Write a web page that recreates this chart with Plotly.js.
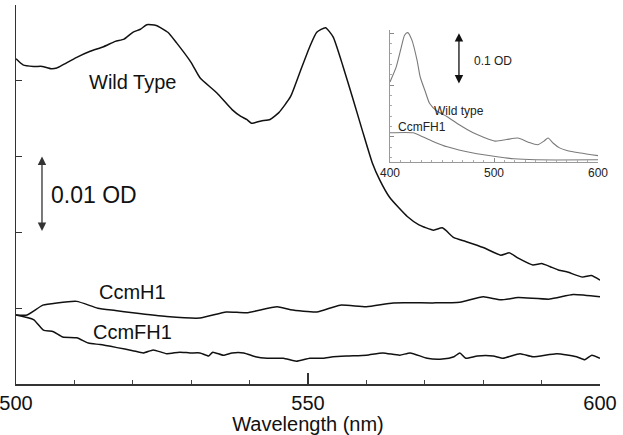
<!DOCTYPE html>
<html>
<head>
<meta charset="utf-8">
<script src="https://cdn.plot.ly/plotly-3.0.1.min.js"></script>
<style>html,body{margin:0;padding:0;background:#fff}#chart{width:623px;height:435px}</style>
</head>
<body>
<div id="chart"></div>
<script>
// Main panel: wavelength (nm) vs absorbance (mOD)
const wtX = [500,501.2,503,504.5,506,507,508,510.4,512.7,515,517,518.5,520,521.3,522.4,524,526,527.5,530,531.5,534.4,537,538.5,539.5,540.3,541,542,543.5,545,547,548.6,550.3,551.5,553,554.3,556,557.7,559.4,561,562.3,564,567,569,571.5,573,575,577,580,583,584.5,586,588.5,590,591.4,593,594.3,597,598.5,600];
const wtY = [42.9,42.1,41.9,41.9,41.6,41.7,42.1,43.1,43.9,44.5,45.2,45.5,46.4,46.8,47.4,47.3,46.4,45.0,42.4,40.4,38.4,36.2,35.3,34.9,34.4,34.5,34.7,34.9,35.8,37.9,41.1,44.5,46.4,47.0,45.8,41.9,37.6,33.2,29.2,26.9,24.6,22.1,21.0,20.3,20.6,19.3,18.8,18.0,17.0,17.3,16.6,15.7,15.9,15.5,15.0,14.8,14.1,14.3,13.7];

const h1X = [500,501.9,504.6,507,510.4,514,517,520,525.8,531.5,536,539.5,544.7,547,551.5,555.5,560,564.6,571.4,576,580,583,586,591.4,595.4,600];
const h1Y = [9.1,9.1,10.4,10.7,10.9,10.0,9.7,9.4,8.9,8.7,9.5,9.4,10.2,9.8,9.5,10.4,10.2,10.7,10.7,10.8,11.5,11.1,11.4,11.2,11.8,11.5];

const fh1X = [500,503,504.7,506.4,508,510.4,512.4,514.4,517.3,520,521.8,523.5,525.8,528,529.8,531.5,533,533.7,535.5,537,539,541,543,545.8,548,550.3,552.6,554.3,557,560,562.8,565.7,567.5,570.4,573,575,576,577,579,581.7,583.4,586.3,588.5,592.6,596,597.4,598.6,600];
const fh1Y = [9.1,8.5,7.1,6.9,6.2,6.1,5.4,5.2,4.8,4.4,4.1,4.5,4.0,4.2,4.1,4.1,3.7,4.2,3.8,4.1,4.1,3.6,3.4,3.4,3.0,3.4,3.4,3.6,3.7,3.8,4.1,3.8,4.1,3.4,3.3,3.6,4.1,3.4,3.7,3.7,3.4,4.0,3.6,4.0,3.6,3.2,3.8,3.4];

// Inset: wavelength (nm) vs absorbance (OD)
const inWtX = [400,406,411,414,417,421,426,429,434,438,445,455,467,480,501,512,523,533,542,548,552,557,563,570,583,600];
const inWtY = [0.206,0.235,0.274,0.296,0.301,0.287,0.248,0.216,0.187,0.165,0.150,0.139,0.123,0.108,0.092,0.095,0.098,0.090,0.085,0.092,0.098,0.088,0.079,0.074,0.069,0.064];
const inFhX = [400,422,432,443,455,480,503,519,540,600];
const inFhY = [0.108,0.108,0.100,0.090,0.081,0.069,0.062,0.058,0.056,0.056];

const mainTicks = [500,550,600];
const mainYTicks = [10,20,30,40];
const insetTicks = [400,500,600];

const F = 'Liberation Sans, Arial, sans-serif';
const lineMain = {color:'#111', width:1.5, shape:'spline', smoothing:0.5};
const lineInset = {color:'#7a7a7a', width:1.1, shape:'spline', smoothing:0.6};

const traces = [
  {x:wtX, y:wtY, type:'scatter', mode:'lines', line:lineMain, xaxis:'x', yaxis:'y'},
  {x:h1X, y:h1Y, type:'scatter', mode:'lines', line:lineMain, xaxis:'x', yaxis:'y'},
  {x:fh1X, y:fh1Y, type:'scatter', mode:'lines', line:lineMain, xaxis:'x', yaxis:'y'},
  {x:inWtX, y:inWtY, type:'scatter', mode:'lines', line:lineInset, xaxis:'x2', yaxis:'y2'},
  {x:inFhX, y:inFhY, type:'scatter', mode:'lines', line:lineInset, xaxis:'x2', yaxis:'y2'}
];

const layout = {
  width:623, height:435,
  margin:{l:16, r:23, t:5, b:51},
  paper_bgcolor:'#fff', plot_bgcolor:'rgba(0,0,0,0)',
  showlegend:false,
  font:{family:F, color:'#111'},
  xaxis:{
    domain:[0,1], range:[500,600], showgrid:false, zeroline:false,
    showline:true, linecolor:'#333', linewidth:1.5,
    tickvals:mainTicks, ticktext:mainTicks.map(String), ticks:'inside', ticklen:11, tickwidth:1.2, tickcolor:'#333',
    ticklabeloverflow:'allow',
    minor:{dtick:10, ticks:'inside', ticklen:4, tickwidth:1, tickcolor:'#444'},
    tickfont:{size:20, family:F, color:'#111'},
    title:{text:'Wavelength (nm)', font:{size:20, family:F, color:'#111'}, standoff:2}
  },
  yaxis:{
    domain:[0,1], range:[0,50], showgrid:false, zeroline:false,
    showline:true, linecolor:'#333', linewidth:1.5,
    tickvals:mainYTicks, ticks:'inside', ticklen:6, tickwidth:1.2, tickcolor:'#333',
    showticklabels:false
  },
  xaxis2:{
    domain:[0.6404,0.9966], anchor:'y2', range:[400,600], showgrid:false, zeroline:false,
    showline:true, linecolor:'#999', linewidth:1,
    tickvals:insetTicks, ticks:'inside', ticklen:4, tickwidth:1, tickcolor:'#888',
    ticklabeloverflow:'allow',
    minor:{dtick:10, ticks:'inside', ticklen:2, tickcolor:'#aaa'},
    tickfont:{size:12, family:F, color:'#222'}
  },
  yaxis2:{
    domain:[0.586,0.934], anchor:'x2', range:[0.052,0.306], showgrid:false, zeroline:false,
    showline:true, linecolor:'#999', linewidth:1,
    tickvals:[0.1,0.2,0.3], ticks:'inside', ticklen:4, tickwidth:1, tickcolor:'#888',
    minor:{dtick:0.02, tick0:0, ticks:'inside', ticklen:2, tickcolor:'#aaa'},
    showticklabels:false
  },
  annotations:[
    {xref:'x', yref:'y', x:520, y:39.9, text:'Wild Type', showarrow:false, font:{size:20, family:F, color:'#111'}},
    {xref:'x', yref:'y', x:520, y:12.2, text:'CcmH1', showarrow:false, font:{size:20, family:F, color:'#111'}},
    {xref:'x', yref:'y', x:520, y:6.9, text:'CcmFH1', showarrow:false, font:{size:20, family:F, color:'#111'}},
    {xref:'x', yref:'y', x:505.6, y:25, xanchor:'left', text:'0.01 OD', showarrow:false, font:{size:23, family:F, color:'#111'}},
    {xref:'x', yref:'y', x:504.45, y:30, ax:504.45, ay:20, axref:'x', ayref:'y', text:'', showarrow:true,
     arrowhead:2, startarrowhead:2, arrowside:'end+start', arrowsize:1.3, startarrowsize:1.3, arrowwidth:1.3, arrowcolor:'#333', standoff:0, startstandoff:0},
    {xref:'x2', yref:'y2', x:466.3, y:0.15, text:'Wild type', showarrow:false, font:{size:12, family:F, color:'#222'}},
    {xref:'x2', yref:'y2', x:430.8, y:0.119, text:'CcmFH1', showarrow:false, font:{size:12, family:F, color:'#222'}},
    {xref:'x2', yref:'y2', x:478.8, y:0.246, xanchor:'left', text:'0.1 OD', showarrow:false, font:{size:12, family:F, color:'#222'}},
    {xref:'x2', yref:'y2', x:466.3, y:0.3, ax:466.3, ay:0.2, axref:'x2', ayref:'y2', text:'', showarrow:true,
     arrowhead:2, startarrowhead:2, arrowside:'end+start', arrowsize:1.3, startarrowsize:1.3, arrowwidth:1.3, arrowcolor:'#111', standoff:0, startstandoff:0}
  ]
};

Plotly.newPlot('chart', traces, layout, {staticPlot:true, displayModeBar:false});
</script>
</body>
</html>
